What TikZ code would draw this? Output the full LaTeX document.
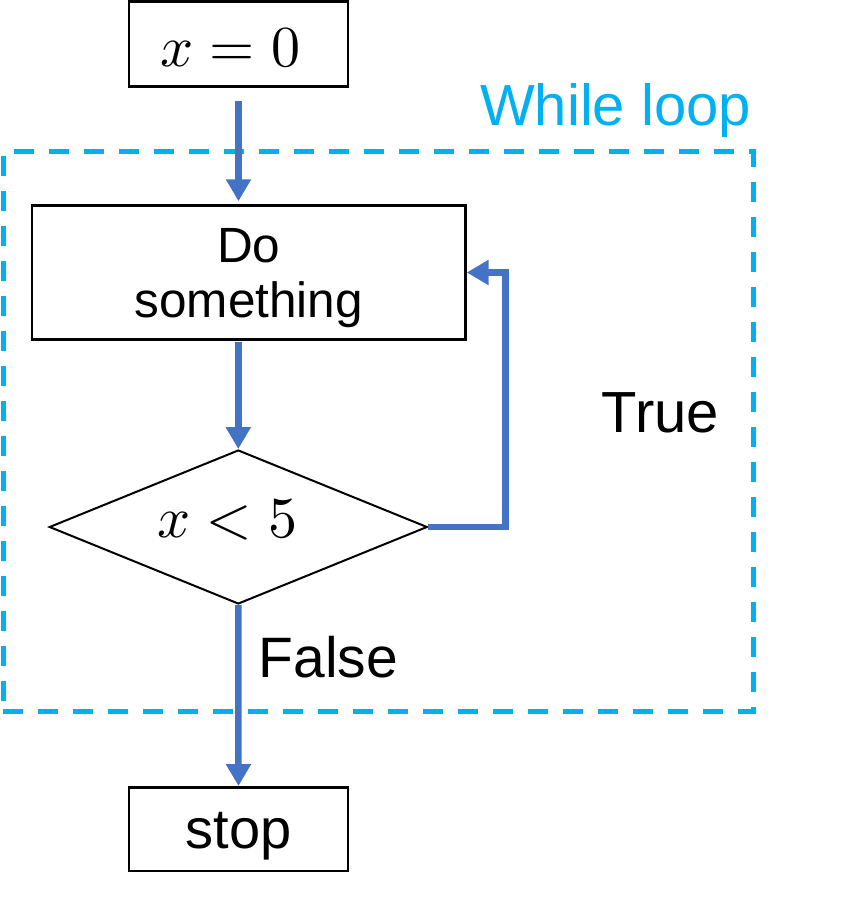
\documentclass[tikz,border=0pt]{standalone}
\usepackage{fontspec}
\usepackage{unicode-math}
\setmainfont{Liberation Sans}
\setmathfont{Latin Modern Math}
\usetikzlibrary{arrows.meta,shapes.geometric}
\definecolor{flowblue}{HTML}{4472C4}
\definecolor{loopcyan}{HTML}{00B0F0}
\tikzset{
  box/.style={draw=black, line width=2.5pt, inner sep=0pt, text depth=0pt},
  flow/.style={draw=flowblue, line width=6.5pt, -{Triangle[length=22pt,width=24pt]}},
  plain/.style={inner sep=0pt, anchor=base west},
}
\begin{document}
\begin{tikzpicture}[x=1pt,y=-1pt]
\useasboundingbox (0,0) rectangle (854,899);
% dashed loop frame
\node[draw=loopcyan, line width=5pt, dash pattern=on 20pt off 15pt,
      minimum width=750pt, minimum height=560.5pt, inner sep=0pt] (frame) at (378,431.25) {};
\node[plain, text=loopcyan, font=\fontsize{58}{64}\selectfont] (wl) at (480,125) {While loop};
% boxes
\node[box, minimum width=219pt, minimum height=84.5pt, text height=45.4pt,
      font=\fontsize{58}{62}\selectfont] (start) at (238.5,44) {$x=0$\hspace*{16pt}};
\node[box, minimum width=433.5pt, minimum height=134pt, align=center,
      font=\fontsize{49.5}{55}\selectfont] (do) at (248.7,272.5) {Do\\something};
\node[draw=black, line width=2pt, diamond, aspect=2.45, minimum width=378pt,
      minimum height=154pt, inner sep=0pt, text height=20.6pt, text depth=0pt,
      font=\fontsize{58}{62}\selectfont] (dia) at (238.3,527) {$x<5$\hspace*{22pt}};
\node[box, minimum width=219pt, minimum height=83.5pt, text height=38pt,
      font=\fontsize{56}{60}\selectfont] (stop) at (238.5,829) {stop};
% labels
\node[plain, font=\fontsize{58}{64}\selectfont] (true) at (601.5,432.7) {True};
\node[plain, font=\fontsize{57}{60}\selectfont] (false) at (258.5,677.3) {False};
% connectors
\draw[flow, shorten <=13pt, shorten >=3pt] (start.south) -- (start.south |- do.north);
\draw[flow, shorten <=1.5pt] (dia.north |- do.south) -- (dia.north);
\draw[flow] (dia.east) -- ++(77pt,0) |- (do.east);
\draw[flow] (dia.south) -- (stop.north);
\end{tikzpicture}
\end{document}
